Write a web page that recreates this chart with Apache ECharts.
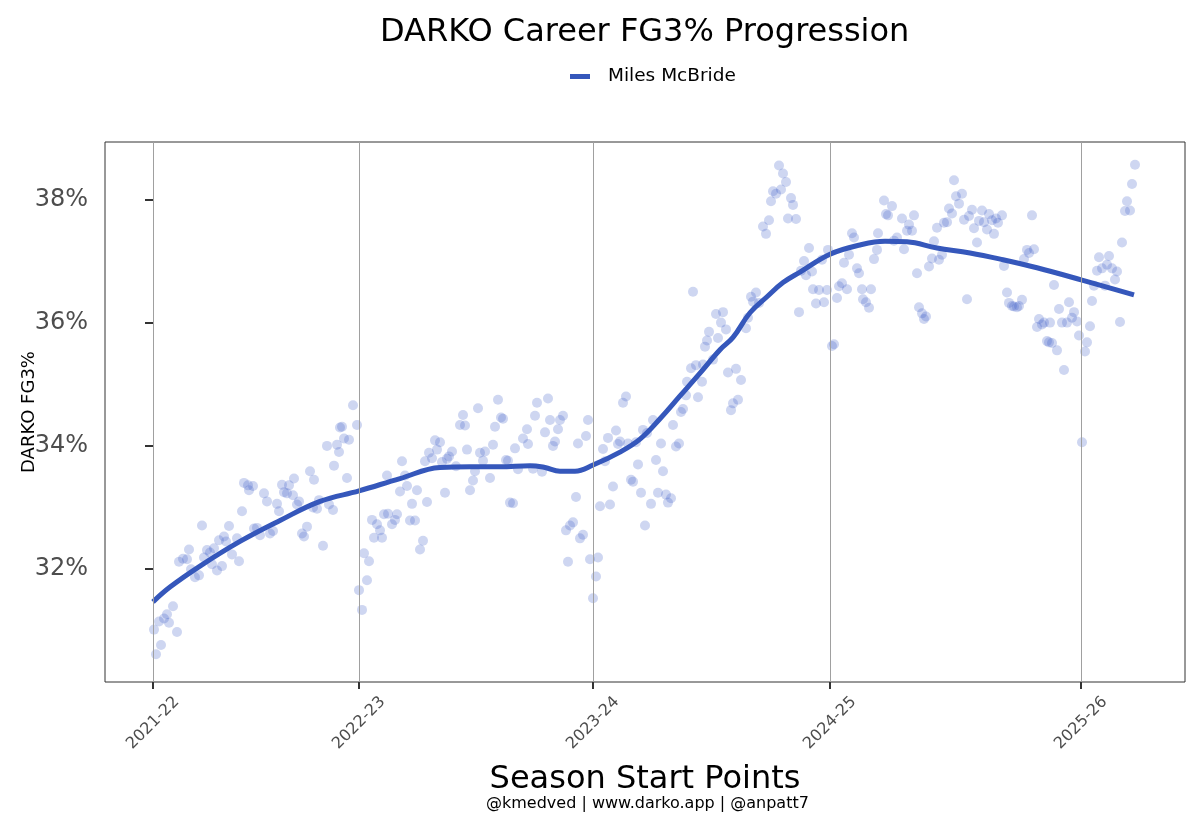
<!DOCTYPE html>
<html>
<head>
<meta charset="utf-8">
<script src="https://cdn.jsdelivr.net/npm/echarts@6/dist/echarts.min.js"></script>
<style>
  html, body { margin: 0; padding: 0; background: #fff; }
  #chart { width: 1200px; height: 827px; }
</style>
</head>
<body>
<div id="chart"></div>
<script>
// season start points (game index) and their labels
var seasonStarts = [0, 206, 440, 677, 928];
var seasonLabels = ['2021-22', '2022-23', '2023-24', '2024-25', '2025-26'];
var pctTicks = [32, 34, 36, 38];

// game-by-game DARKO FG3% (scatter)
var gameNum = [1, 3, 6, 8, 11, 14, 16, 20, 24, 26, 30, 34, 36, 38, 42, 46, 49, 51, 54, 57,
  59, 61, 64, 66, 69, 71, 73, 76, 79, 84, 86, 89, 91, 95, 96, 100, 101, 104, 107, 111,
  114, 117, 120, 124, 126, 129, 131, 134, 136, 140, 141, 144, 146, 149, 151, 154, 157, 160, 161, 164,
  166, 170, 174, 176, 180, 181, 184, 186, 187, 189, 191, 194, 196, 200, 204,
  206, 209, 211, 214, 216, 219, 221, 224, 227, 229, 231, 234, 235, 239, 242, 244, 247, 249, 252, 254,
  257, 259, 262, 264, 267, 270, 272, 274, 276, 279, 282, 284, 287, 289, 292, 294, 296, 299, 303, 307,
  310, 312, 314, 317, 320, 322, 325, 327, 330, 332, 337, 340, 342, 345, 348, 350, 353, 355, 357, 360,
  362, 365, 370, 374, 375, 380, 382, 384, 389, 392, 395, 397, 400, 402, 405, 407, 410, 413, 415, 417,
  420, 423, 425, 427, 430, 433, 435, 437,
  440, 443, 445, 447, 450, 452, 455, 457, 460, 463, 465, 467, 470, 473, 475, 478, 480, 483, 485, 488,
  490, 492, 494, 498, 500, 503, 505, 508, 510, 513, 515, 518, 520, 523, 526, 528, 530, 533, 534, 538,
  540, 543, 545, 549, 550, 552, 554, 556, 560, 563, 565, 568, 570, 573, 575, 578, 580, 583, 585, 588,
  593, 595, 598, 600, 603, 606, 610, 613, 616, 618, 620, 623, 626, 628, 630, 633, 635, 638, 640, 643,
  646, 648, 651, 653, 656, 659, 660, 663, 666, 669, 671, 674, 675,
  679, 681, 684, 686, 689, 691, 694, 696, 699, 701, 704, 706, 709, 710, 713, 716, 718, 721, 724, 725,
  731, 733, 735, 739, 741, 744, 749, 751, 754, 756, 759, 761, 764, 766, 769, 771, 773, 776, 779, 781,
  784, 786, 789, 791, 794, 796, 799, 801, 803, 806, 809, 811, 814, 816, 819, 821, 824, 826, 829, 831,
  834, 836, 839, 841, 843, 845, 849, 851, 854, 856, 859, 861, 864, 866, 869, 871, 874, 876, 879, 881,
  884, 886, 889, 891, 894, 896, 897, 899, 901, 904, 906, 909, 911, 914, 916, 919, 921, 924, 926,
  929, 932, 934, 937, 939, 941, 944, 946, 949, 952, 954, 956, 959, 962, 964, 967, 969, 972, 974, 977,
  979, 982];
var fg3Pct = [31.02, 30.62, 31.15, 30.77, 31.20, 31.27, 31.13, 31.40, 30.98, 32.12, 32.17, 32.16, 32.32, 32.00, 31.87, 31.90, 32.71, 32.19, 32.31, 32.27,
  32.08, 32.34, 31.98, 32.47, 32.05, 32.53, 32.45, 32.70, 32.24, 32.50, 32.13, 32.94, 33.40, 33.36, 33.28, 33.35, 32.66, 32.67, 32.55, 33.23,
  33.10, 32.58, 32.62, 33.06, 32.94, 33.37, 33.25, 33.23, 33.36, 33.20, 33.47, 33.05, 33.10, 32.58, 32.53, 32.69, 33.59, 33.00, 33.45, 32.98,
  33.12, 32.38, 34.00, 33.05, 32.96, 33.68, 34.02, 33.90, 34.30, 34.31, 34.12, 33.48, 34.10, 34.66, 34.34,
  31.66, 31.34, 32.26, 31.82, 32.13, 32.80, 32.51, 32.73, 32.63, 32.51, 32.89, 33.52, 32.90, 32.73, 32.80, 32.89, 33.26, 33.75, 33.52, 33.35,
  32.79, 33.06, 32.79, 33.28, 32.32, 32.46, 33.75, 33.09, 33.89, 33.80, 34.09, 33.94, 34.06, 33.74, 33.24, 33.79, 33.83, 33.91, 33.67, 34.34,
  34.50, 34.33, 33.94, 33.28, 33.44, 33.59, 34.61, 33.89, 33.76, 33.91, 33.48, 34.02, 34.31, 34.75, 34.46, 34.44, 33.77, 33.76, 33.08, 33.07,
  33.96, 33.62, 34.12, 34.27, 34.03, 33.63, 34.49, 34.70, 33.58, 34.22, 34.77, 34.42, 34.00, 34.07, 34.27, 34.42, 34.49, 32.63, 32.12, 32.71,
  32.76, 33.17, 34.04, 32.50, 32.56, 34.16, 34.42, 32.16,
  31.53, 31.88, 32.19, 33.02, 33.95, 33.75, 34.13, 33.05, 33.34, 34.25, 34.03, 34.07, 34.70, 34.80, 34.04, 33.45, 33.42, 34.06, 33.70, 33.24,
  34.26, 32.71, 34.21, 33.06, 34.42, 33.77, 33.24, 34.04, 33.59, 33.21, 33.08, 33.15, 34.34, 33.99, 34.04, 34.55, 34.60, 34.82, 35.04, 35.26,
  36.50, 35.31, 34.79, 35.04, 35.32, 35.61, 35.71, 35.85, 35.40, 36.14, 35.75, 36.00, 36.17, 35.89, 35.19, 34.58, 34.69, 35.25, 34.75, 35.07,
  35.91, 36.08, 36.42, 36.34, 36.49, 36.32, 37.56, 37.44, 37.66, 37.97, 38.13, 38.09, 38.55, 38.16, 38.42, 38.28, 37.69, 38.02, 37.91, 37.68,
  36.17, 36.84, 37.00, 36.77, 37.21, 36.83, 36.54, 36.31, 36.53, 37.02, 36.33, 36.53, 37.18,
  35.62, 35.65, 36.40, 36.59, 36.64, 36.97, 36.54, 37.10, 37.45, 37.38, 36.88, 36.80, 36.54, 36.38, 36.33, 36.24, 36.54, 37.03, 37.18, 37.45,
  37.98, 37.76, 37.74, 37.89, 37.33, 37.38, 37.69, 37.19, 37.49, 37.59, 37.49, 37.74, 36.80, 36.25, 36.15, 36.06, 36.10, 36.91, 37.04, 37.32,
  37.54, 37.02, 37.10, 37.62, 37.63, 37.85, 37.77, 38.31, 38.05, 37.93, 38.09, 37.67, 36.38, 37.73, 37.83, 37.53, 37.30, 37.65, 37.82, 37.63,
  37.51, 37.76, 37.66, 37.44, 37.69, 37.62, 37.74, 36.92, 36.49, 36.32, 36.27, 36.26, 36.25, 36.27, 36.37, 37.03, 37.18, 37.13, 37.74, 37.19,
  35.93, 36.06, 35.97, 36.00, 35.70, 35.68, 36.00, 35.67, 36.61, 35.55, 36.22, 36.00, 35.23, 36.00, 36.33, 36.08, 36.17, 36.02, 35.79,
  34.06, 35.53, 35.68, 35.94, 36.35, 36.60, 36.84, 37.06, 36.88, 36.60, 36.94, 37.08, 36.88, 36.70, 36.83, 36.01, 37.30, 37.81, 37.97, 37.82,
  38.25, 38.56];

// smoothed career trend
var trendGame = [0, 17, 47, 87, 127, 167, 206, 247, 287, 317, 347, 377, 392, 407, 422, 440, 467, 487, 507, 527,
  547, 567, 580, 597, 614, 630, 647, 677, 707, 732, 754, 784, 817, 850, 884, 929, 981];
var trendPct = [31.47, 31.71, 32.05, 32.45, 32.79, 33.10, 33.27, 33.47, 33.65, 33.66, 33.66, 33.68, 33.65, 33.59, 33.59, 33.69, 33.90, 34.11, 34.44, 34.81,
  35.18, 35.56, 35.76, 36.16, 36.42, 36.65, 36.82, 37.11, 37.26, 37.32, 37.31, 37.21, 37.13, 37.02, 36.89, 36.69, 36.45];

var chart = echarts.init(document.getElementById('chart'));

var points = gameNum.map(function (g, i) { return [g, fg3Pct[i]]; });
var trend = trendGame.map(function (g, i) { return [g, trendPct[i]]; });

var option = {
  animation: false,
  textStyle: { fontFamily: 'DejaVu Sans' },
  title: [{
    text: 'DARKO Career FG3% Progression',
    left: 380, top: 17, padding: 0,
    textStyle: { fontSize: 32, fontWeight: 'normal', color: '#000' }
  }, {
    text: '@kmedved | www.darko.app | @anpatt7',
    left: 486, top: 796, padding: 0,
    textStyle: { fontSize: 16, fontWeight: 'normal', color: '#000' }
  }],
  legend: {
    data: ['Miles McBride'],
    left: 570, top: 67, padding: 0,
    icon: 'rect', itemWidth: 20, itemHeight: 5, itemGap: 18,
    textStyle: { fontSize: 18.5, color: '#000', padding: [0, 0, 0, 13] }
  },
  grid: {
    left: 105, right: 15, top: 142, bottom: 145,
    outerBoundsMode: 'none',
    show: true, borderColor: '#333', borderWidth: 1
  },
  xAxis: {
    type: 'value',
    min: -48, max: 1032,
    name: 'Season Start Points',
    nameLocation: 'middle', nameGap: 82,
    nameMoveOverlap: false,
    nameTextStyle: { fontSize: 32, color: '#000' },
    axisLine: { show: false },
    splitLine: { show: false },
    axisTick: { show: true, length: 7, lineStyle: { color: '#333', width: 2 }, customValues: seasonStarts },
    axisLabel: {
      customValues: seasonStarts,
      rotate: 45, align: 'center', verticalAlign: 'middle', margin: 41,
      fontSize: 16, color: '#4d4d4d',
      formatter: function (v) { return seasonLabels[seasonStarts.indexOf(v)]; }
    }
  },
  yAxis: {
    type: 'value',
    min: 30.17, max: 38.93,
    name: 'DARKO FG3%',
    nameLocation: 'middle', nameGap: 67,
    nameMoveOverlap: false,
    nameTextStyle: { fontSize: 18, color: '#000' },
    axisLine: { show: false },
    splitLine: { show: false },
    axisTick: { show: true, length: 8, lineStyle: { color: '#333', width: 2 }, customValues: pctTicks },
    axisLabel: {
      customValues: pctTicks,
      margin: 17, fontSize: 24, color: '#4d4d4d',
      formatter: function (v) { return v + '%'; }
    }
  },
  series: [{
    type: 'scatter',
    name: 'points',
    data: points,
    symbolSize: 10,
    z: 2,
    itemStyle: { color: '#3a5bc7', opacity: 0.25 },
    markLine: {
      silent: true,
      symbol: 'none',
      label: { show: false },
      lineStyle: { color: '#a0a0a0', width: 1, type: 'solid' },
      data: seasonStarts.map(function (s) { return { xAxis: s }; })
    }
  }, {
    type: 'line',
    name: 'Miles McBride',
    data: trend,
    smooth: 0.4,
    showSymbol: false,
    z: 3,
    itemStyle: { color: '#3557bb' },
    lineStyle: { color: '#3557bb', width: 5 }
  }]
};

chart.setOption(option);
window.onresize = chart.resize;
</script>
</body>
</html>
